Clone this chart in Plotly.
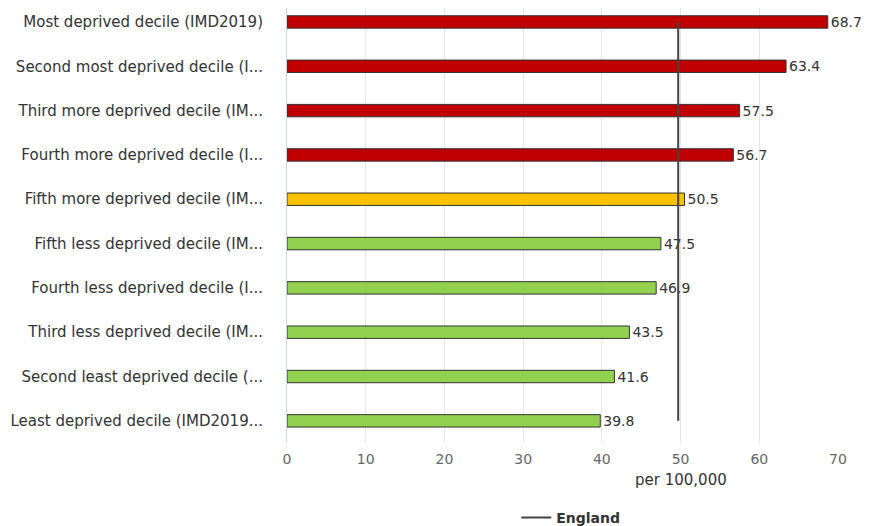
import plotly.graph_objects as go

categories = [
    "Most deprived decile (IMD2019)",
    "Second most deprived decile (I...",
    "Third more deprived decile (IM...",
    "Fourth more deprived decile (I...",
    "Fifth more deprived decile (IM...",
    "Fifth less deprived decile (IM...",
    "Fourth less deprived decile (I...",
    "Third less deprived decile (IM...",
    "Second least deprived decile (...",
    "Least deprived decile (IMD2019...",
]
values = [68.7, 63.4, 57.5, 56.7, 50.5, 47.5, 46.9, 43.5, 41.6, 39.8]
colors = ["#C00000"] * 4 + ["#FFC000"] + ["#92D050"] * 5
england = 49.7

fig = go.Figure()
fig.add_trace(go.Bar(
    x=values,
    y=categories,
    orientation="h",
    marker=dict(color=colors, line=dict(color="#333333", width=1)),
    text=[f"{v:.1f}" for v in values],
    textposition="outside",
    constraintext="none",
    textfont=dict(family="DejaVu Sans", size=14, color="#333333"),
    cliponaxis=False,
    showlegend=False,
))
fig.add_trace(go.Scatter(
    x=[england, england],
    y=[categories[0], categories[-1]],
    mode="lines",
    line=dict(color="#444444", width=2),
    name="England",
))

fig.update_layout(
    width=871,
    height=526,
    margin=dict(l=279, r=41, t=0, b=91),
    plot_bgcolor="white",
    paper_bgcolor="white",
    bargap=0.72,
    font=dict(family="DejaVu Sans", size=13, color="#333333"),
    legend=dict(
        orientation="h",
        x=0.515, xanchor="center",
        y=-0.172, yanchor="middle",
        font=dict(size=14, color="#333333", weight="bold"),
    ),
    annotations=[dict(
        text="per 100,000",
        xref="paper", yref="paper",
        x=0.715, y=-0.085,
        xanchor="center", yanchor="middle",
        showarrow=False,
        font=dict(size=15, color="#333333"),
    )],
)
fig.update_xaxes(
    range=[0, 70],
    dtick=10,
    showgrid=True,
    gridcolor="#e6e6e6",
    zeroline=False,
    tickfont=dict(color="#666666", size=14),
    ticklabelstandoff=6,
)
fig.update_yaxes(
    range=[9.5, -0.315],
    showline=True,
    linecolor="#ccd6eb",
    ticks="",
    ticklabelstandoff=20,
    tickfont=dict(color="#333333", size=15),
)

fig.write_html("out.html")
